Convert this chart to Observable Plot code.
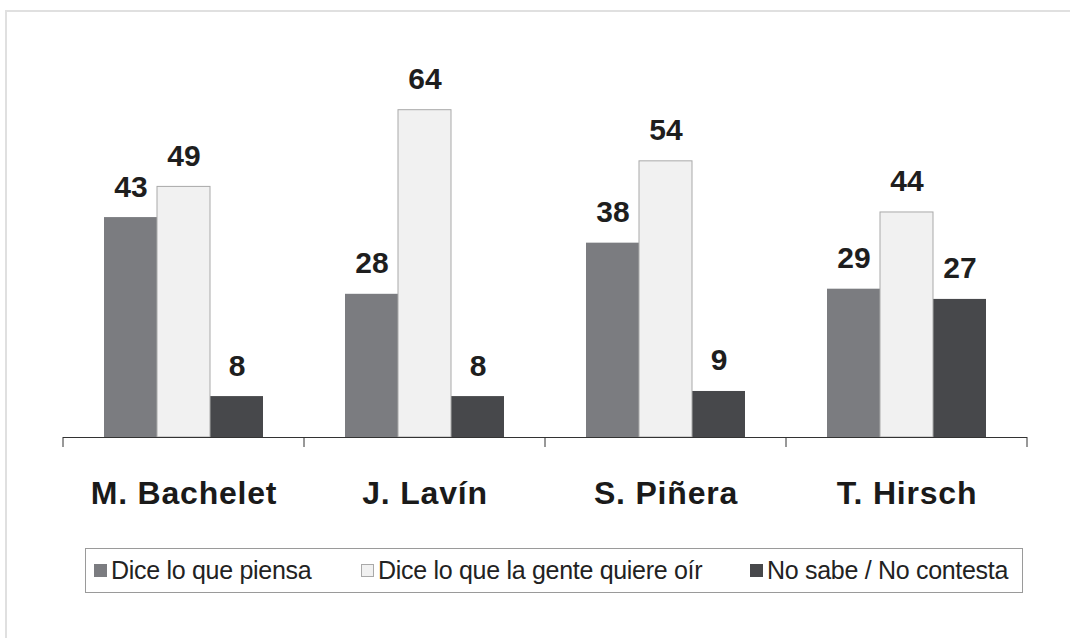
<!DOCTYPE html>
<html>
<head>
<meta charset="utf-8">
<script src="https://cdn.jsdelivr.net/npm/d3@7"></script>
<script src="https://cdn.jsdelivr.net/npm/@observablehq/plot@0.6"></script>
<style>
  html, body { margin: 0; padding: 0; background: #fff; }
  #wrap { position: relative; width: 1070px; height: 638px; overflow: hidden; font-family: "Liberation Sans", Arial, sans-serif; }
  #frame { position: absolute; left: 5px; top: 10px; width: 1100px; height: 700px; border-top: 2px solid #e0e0e0; border-left: 2px solid #e0e0e0; }
  #chart { position: absolute; left: 0; top: 0; }
  #chart svg g[aria-label="fx-axis tick label"] text { letter-spacing: 0.8px; }
  #legend { position: absolute; left: 85px; top: 548px; width: 936px; height: 43px; border: 1px solid #9a9a9a; background: #fff; }
  .item { position: absolute; top: 0; height: 43px; display: flex; align-items: center; font-size: 25px; letter-spacing: -0.3px; color: #222; white-space: nowrap; }
  .sw { width: 13px; height: 13px; margin-right: 4px; box-sizing: border-box; }
</style>
</head>
<body>
<div id="wrap">
  <div id="frame"></div>
  <div id="chart"></div>
  <div id="legend"></div>
</div>
<script>
const candidates = ["M. Bachelet", "J. Lavín", "S. Piñera", "T. Hirsch"];
const series = ["Dice lo que piensa", "Dice lo que la gente quiere oír", "No sabe / No contesta"];
const piensa = [43, 28, 38, 29];
const quiereOir = [49, 64, 54, 44];
const noSabe = [8, 8, 9, 27];
const colors = ["#7b7c80", "#f1f1f1", "#47484b"];
const legendX = [8, 275, 664];

const values = [piensa, quiereOir, noSabe];
const data = [];
candidates.forEach((c, i) => series.forEach((s, j) => data.push({candidate: c, series: s, value: values[j][i]})));

const plot = Plot.plot({
  width: 1070,
  height: 530,
  marginLeft: 62,
  marginRight: 42,
  marginTop: 79,
  marginBottom: 93,
  style: {fontFamily: "'Liberation Sans', Arial, sans-serif", background: "transparent"},
  fx: {domain: candidates, padding: 0, label: null, axis: null},
  x: {domain: series, paddingInner: 0, paddingOuter: 0.77, axis: null},
  y: {domain: [0, 70], axis: null},
  color: {domain: series, range: colors},
  marks: [
    Plot.barY(data, {fx: "candidate", x: "series", y: "value", fill: "series", insetLeft: 0, insetRight: 0}),
    Plot.barY(data.filter(d => d.series === series[1]), {fx: "candidate", x: "series", y: "value", fill: "none", stroke: "#a9a9a9", strokeWidth: 1}),
    Plot.ruleY([0], {stroke: "#333", strokeWidth: 1}),
    Plot.text(data, {fx: "candidate", x: "series", y: "value", text: d => String(d.value), lineAnchor: "bottom", dy: -21, fontSize: 30, fontWeight: "bold", fill: "#1e1e1e"}),
    Plot.axisFx({anchor: "bottom", tickSize: 0, tickPadding: 44, fontSize: 32, fontWeight: "bold", label: null, fill: "#1a1a1a"})
  ]
});
document.getElementById("chart").appendChild(plot);

// boundary tick marks between category bands, from the fx scale
const fx = plot.scale("fx");
const yS = plot.scale("y");
const y0 = yS.apply(0);
const bounds = candidates.map(c => fx.apply(c)).concat([fx.apply(candidates[candidates.length - 1]) + fx.bandwidth]);
d3.select(plot).append("g").selectAll("line").data(bounds).join("line")
  .attr("x1", d => d).attr("x2", d => d)
  .attr("y1", y0).attr("y2", y0 + 10)
  .attr("stroke", "#333").attr("stroke-width", 1);

const leg = d3.select("#legend");
series.forEach((s, i) => {
  const it = leg.append("div").attr("class", "item").style("left", legendX[i] + "px");
  it.append("div").attr("class", "sw").style("background", colors[i]).style("border", i === 1 ? "1px solid #a9a9a9" : "none");
  it.append("span").text(s);
});
</script>
</body>
</html>
